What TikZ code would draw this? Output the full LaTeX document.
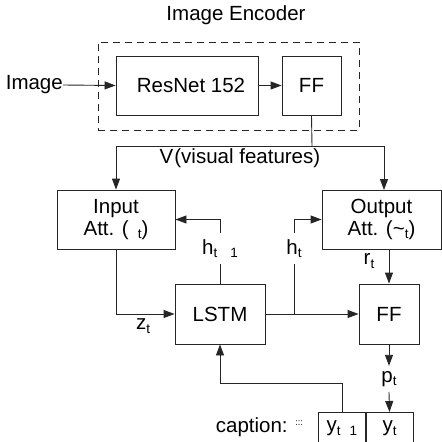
\documentclass[tikz,border=0pt]{standalone}
\usepackage{fontspec}
\setmainfont{Liberation Sans}
\usetikzlibrary{arrows.meta,calc}
\newcommand{\sbs}[1]{\raisebox{-0.16em}{\fontsize{13.5}{14}\selectfont #1}}
\tikzset{
  ln/.style={line width=0.9pt, draw=black!85},
  arr/.style={ln, -{Triangle[length=11pt,width=8pt]}},
  blk/.style={ln, rectangle, inner sep=0pt, align=center},
  lbl/.style={inner sep=0pt, align=center},
}
\begin{document}
\begin{tikzpicture}[x=1pt,y=-1pt,font=\fontsize{20.5}{22}\selectfont]
\fill[white] (0,0) rectangle (442,442);
\useasboundingbox (0,0) rectangle (442,442);
% title and encoder
\node[lbl] (title) at (236,15) {Image Encoder};
\node[ln, dash pattern=on 7pt off 5pt, minimum width=261pt, minimum height=88pt, inner sep=0pt] (enc) at (228.5,86) {};
\node[blk, minimum width=142pt, minimum height=59pt] (resnet) at (187,85.5) {\hspace{8pt}ResNet 152};
\node[blk, minimum width=59pt, minimum height=59pt] (ff1) at (311.5,85.5) {FF};
\node[lbl, anchor=east] (img) at (63,85) {Image};
\draw[arr] (img.east) -- (resnet.west);
\draw[arr] (resnet.east) -- (ff1.west);
% attention boxes
\node[blk, minimum width=118pt, minimum height=59pt] (inatt) at (116,219.5) {Input\\Att. (\hspace{9pt}\sbs{t})};
\node[blk, minimum width=119pt, minimum height=59pt] (outatt) at (381.5,219.5) {Output\\Att. (\textasciitilde\sbs{t})};
% visual features
\coordinate (vj) at (312,146);
\coordinate (oin) at (384,190);
\draw[ln] (ff1.south) -- (vj);
\draw[arr] (vj) -| (inatt.north);
\draw[arr] (vj) -| (oin);
\node[lbl] (vlab) at (240,158) {V\hspace{1pt}(visual features)};
% LSTM and FF
\node[blk, minimum width=90pt, minimum height=60pt] (lstm) at (220,314) {LSTM};
\node[blk, minimum width=60pt, minimum height=60pt] (ff2) at (389,314) {FF};
\draw[arr] (inatt.south) |- (lstm.west);
\node[lbl] (zt) at (143,326) {z\sbs{t}};
\draw[arr] (lstm.east) -- (ff2.west);
% h_{t-1}
\node[lbl, minimum height=31pt, anchor=south] (hm1) at (220,264) {h\sbs{t\hspace{13pt}1}};
\draw[ln] (lstm.north) -- (hm1.south);
\draw[arr] (hm1.north) |- (inatt.east);
% h_t
\coordinate (hj) at (294,314);
\node[lbl, minimum height=31pt, anchor=south] (ht) at (294,264) {h\sbs{t}};
\draw[ln] (hj) -- (ht.south);
\draw[arr] (ht.north) |- (outatt.west);
% r_t
\coordinate (rt0) at (389,249);
\draw[arr] (rt0) -- (ff2.north);
\node[lbl] (rt) at (369,261) {r\sbs{t}};
% p_t
\node[lbl, minimum height=26pt] (pt) at (389,379) {p\sbs{t}};
% caption
\node[blk, minimum width=47pt, minimum height=32pt, anchor=north] (ym1) at (342,412) {y\sbs{t\hspace{9pt}1}};
\node[blk, minimum width=47pt, minimum height=32pt, anchor=north] (yt) at (389.5,412) {y\sbs{t}};
\draw[arr] (ff2.south) -- (pt.north);
\draw[arr] (pt.south) -- (yt.north);
\node[lbl, anchor=east] (cap) at (303,427) {caption: \raisebox{0.35em}{\fontsize{9}{9}\selectfont :::}};
\coordinate (fb) at (342,383);
\draw[arr] (ym1.north) -- (fb) -| (lstm.south);
\end{tikzpicture}
\end{document}
